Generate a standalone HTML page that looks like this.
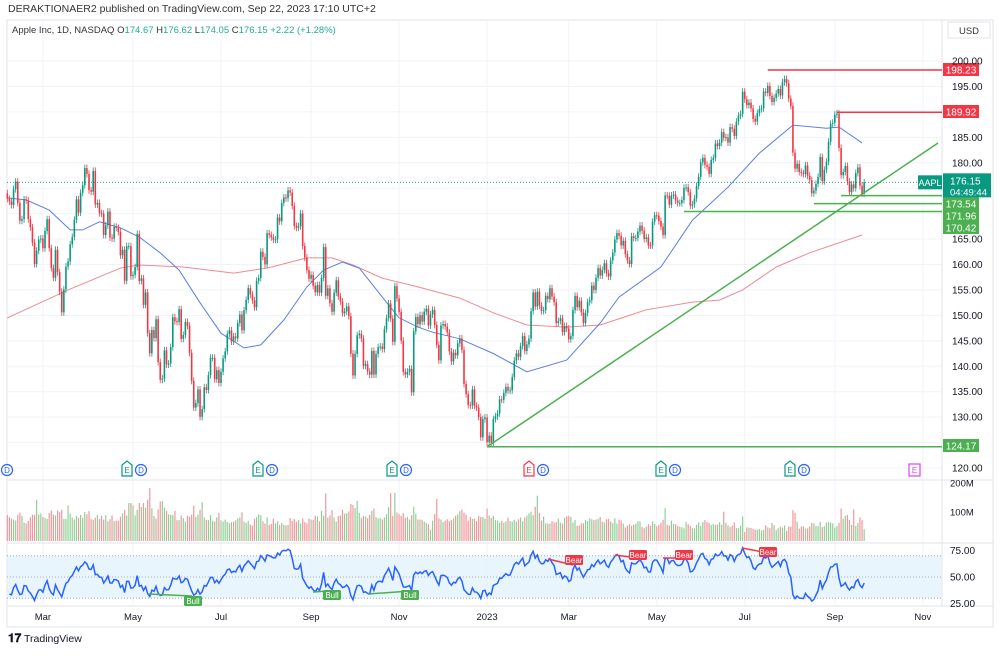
<!DOCTYPE html>
<html><head><meta charset="utf-8">
<style>
html,body{margin:0;padding:0;background:#fff;}
body{width:1000px;height:652px;overflow:hidden;font-family:"Liberation Sans",sans-serif;}
svg text{font-family:"Liberation Sans",sans-serif;}
</style></head>
<body>
<svg id="chart" width="1000" height="652" viewBox="0 0 1000 652" xmlns="http://www.w3.org/2000/svg">
<rect x="0" y="0" width="1000" height="652" fill="#fff"/>
<text x="8" y="12" font-size="10.5" fill="#333">DERAKTIONAER2 published on TradingView.com, Sep 22, 2023 17:10 UTC+2</text>
<rect x="7" y="20" width="986" height="607" fill="none" stroke="#e0e3eb"/>
<g id="grid"></g>
<g id="panes">
<line x1="7" y1="480" x2="993" y2="480" stroke="#e0e3eb"/>
<line x1="7" y1="543" x2="993" y2="543" stroke="#e0e3eb"/>
<line x1="7" y1="606" x2="993" y2="606" stroke="#e0e3eb"/>
<line x1="942" y1="20" x2="942" y2="606" stroke="#e0e3eb"/>
</g>
<g>
<text x="12" y="33" font-size="9.5" fill="#333">Apple Inc, 1D, NASDAQ <tspan fill="#333">O</tspan><tspan fill="#22ab94">174.67</tspan> <tspan fill="#333">H</tspan><tspan fill="#22ab94">176.62</tspan> <tspan fill="#333">L</tspan><tspan fill="#22ab94">174.05</tspan> <tspan fill="#333">C</tspan><tspan fill="#22ab94">176.15 +2.22 (+1.28%)</tspan></text>
</g>
<g><rect x="948" y="22" width="42" height="16" fill="#fff" stroke="#e0e3eb"/><text x="969" y="34" font-size="9.5" fill="#333" text-anchor="middle">USD</text></g>
<g id="mas"></g>
<g id="candles"></g>
<g id="levels"></g>
<g id="yaxis"></g>
<g id="events"></g>
<g id="volume"></g>
<g id="rsi"></g>
<g id="xaxis"></g>
<g>
<text x="8" y="642" font-size="12" font-weight="bold" fill="#131722">𝟏𝟕</text>
<text x="24" y="642" font-size="10.5" fill="#131722">TradingView</text>
</g>
</svg>
<script>
const closes=[172.9,172.4,171.7,174.8,176.3,172.1,168.6,168.9,172.8,172.6,168.9,167.3,164.3,160.1,162.7,164.9,165.1,
163.2,166.6,168.9,163.2,159.3,157.4,162.9,158.5,154.7,150.6,155.1,159.6,160.6,163.98,165.4,168.8,172.8,170.2,174.1,175.6,178.96,177.8,174.6,
174.3,178.4,171.8,172.1,170.1,170.0,165.8,167.7,170.4,165.3,165.1,167.4,167.2,166.4,161.8,162.9,156.8,163.6,163.6,157.7,
157.96,159.48,166.02,156.77,157.28,152.06,154.51,146.5,142.56,147.11,145.54,149.24,140.82,137.35,137.59,143.11,140.36,140.52,143.78,149.64,148.84,
148.71,151.21,145.38,146.14,148.71,147.96,142.64,137.13,131.88,132.76,135.43,130.06,131.56,135.87,135.35,138.27,141.66,141.66,137.44,139.23,136.72,
138.93,141.56,142.92,146.35,147.04,144.87,145.86,145.49,148.47,150.17,147.07,151.0,153.04,155.35,154.09,152.95,151.6,156.79,157.35,162.51,
161.51,160.01,166.13,165.81,165.35,164.87,164.92,169.24,168.49,172.1,173.19,173.03,174.55,174.15,171.52,167.57,167.23,167.53,170.03,163.62,161.38,158.91,157.22,
157.96,155.81,154.53,155.96,154.46,157.37,163.43,153.84,155.31,152.37,150.7,154.48,156.9,153.72,152.74,150.43,150.77,151.76,149.84,142.48,138.2,
142.45,146.1,146.4,145.43,140.09,140.42,138.98,138.34,142.99,138.38,142.41,143.75,143.86,143.39,147.27,149.45,152.34,149.35,144.8,155.74,153.34,
150.65,145.03,138.88,138.38,138.92,139.5,134.87,146.87,149.7,148.28,150.04,148.79,150.72,151.29,148.01,150.18,151.07,148.11,144.22,141.17,148.03,
148.31,147.81,146.63,142.91,140.94,142.65,142.16,144.49,145.47,143.21,136.5,134.51,132.37,132.3,135.45,132.23,131.86,130.03,126.04,129.61,129.93,
125.07,126.36,125.02,129.62,130.15,130.73,133.49,133.41,134.76,135.94,135.21,135.27,137.87,141.11,142.53,141.86,143.96,145.93,143.0,144.29,
145.43,150.82,154.5,151.73,154.65,151.92,150.87,151.01,153.85,153.2,155.33,153.71,152.55,148.48,148.91,149.4,146.71,147.92,147.41,
145.31,145.91,151.03,153.83,151.6,152.87,150.59,148.5,150.47,152.59,152.99,155.85,155.0,157.4,159.28,157.83,158.93,160.25,158.28,157.65,160.77,162.36,164.9,
166.17,165.63,163.76,164.66,162.03,160.8,160.1,165.56,165.21,165.23,166.47,167.63,166.65,165.02,165.33,163.77,163.76,168.41,169.68,
169.59,168.54,167.45,165.79,173.57,173.5,171.77,173.56,173.75,172.57,172.07,172.07,172.69,175.05,175.16,174.2,171.56,171.84,172.99,175.43,177.25,
180.09,180.95,179.58,179.21,177.82,180.57,180.96,183.79,183.31,183.95,186.01,184.92,185.01,183.96,187.0,186.68,185.27,188.06,189.25,189.59,193.97,
192.46,191.33,191.81,190.68,188.61,188.08,189.77,190.54,190.69,193.99,193.73,195.1,193.13,191.94,192.75,193.62,194.5,193.22,195.83,196.45,
195.61,192.58,191.17,181.99,178.85,179.8,178.19,177.97,177.79,179.46,177.45,176.57,174.0,174.49,175.84,177.23,181.12,176.38,178.61,180.19,184.12,187.65,187.87,
189.46,189.7,182.91,177.56,178.18,179.36,176.3,174.21,175.74,175.01,177.97,179.07,175.49,173.93,176.15];
const volumes=[90,82,77,74,71,90,98,86,64,61,69,82,91,90,141,91,95,
83,79,76,96,105,91,88,105,99,108,76,76,123,95,81,74,86,80,90,80,100,92,103,
76,73,80,90,76,87,74,89,68,75,88,68,70,70,84,95,107,88,131,131,
123,88,108,131,117,131,115,142,183,113,86,78,109,136,138,115,104,92,90,90,104,
72,72,88,79,67,87,84,91,122,84,91,108,134,81,73,72,89,70,67,82,97,
71,67,74,66,61,65,67,71,78,81,99,67,62,70,57,53,76,82,92,89,
68,60,82,56,59,77,61,68,56,62,55,54,56,79,69,76,66,72,60,77,65,61,77,
74,73,87,84,68,104,87,164,81,88,107,81,67,86,88,107,94,96,102,128,124,
114,138,97,79,86,84,78,90,104,112,82,78,79,74,81,93,117,165,86,166,98,
93,87,96,80,83,74,89,118,94,74,74,73,67,62,58,39,70,93,145,78,74,
65,70,75,69,72,78,87,92,103,108,97,91,70,83,76,77,69,86,83,83,77,
112,88,80,87,72,70,63,70,63,68,80,69,67,73,67,75,81,68,81,88,
95,101,89,118,156,97,70,84,61,60,60,69,64,65,77,63,60,80,85,
87,83,64,72,53,54,61,61,72,69,78,75,72,74,77,83,67,64,75,76,68,62,78,
60,74,71,60,47,53,58,52,56,60,68,68,49,44,50,58,52,68,59,
51,55,63,73,113,56,53,70,59,58,52,49,47,44,66,58,52,44,43,56,64,
52,66,72,66,62,55,59,56,57,65,56,101,63,54,48,53,64,45,44,53,85,
31,47,46,45,42,40,39,41,37,39,54,47,44,62,55,38,44,49,46,54,
35,50,50,106,97,67,43,50,51,43,43,50,62,61,52,52,66,48,51,64,65,64,61,
46,52,62,112,77,87,90,73,56,109,52,62,81,72,41];
const ma50Pts=[[0,173.1],[9,172.7],[20,170.7],[30,166.8],[36,166.8],[44,168.4],[54,167.2],[63,165.4],[73,162.3],[82,158.9],[92,152.5],[102,146.5],[113,143.6],[121,144.2],[132,149.1],[143,155.6],[151,158.9],[160,160.5],[168,159.3],[179,153.6],[187,149.5],[196,147.7],[203,146.7],[216,145.4],[232,142.5],[248,138.9],[267,141.2],[283,148.5],[292,153.6],[312,159.5],[327,168.7],[344,175.2],[359,181.9],[375,187.4],[391,186.8],[397,187.0],[408,183.9]];
const ma200Pts=[[0,149.5],[29,155.0],[54,159.3],[63,159.9],[84,159.5],[108,158.3],[124,159.3],[143,161.3],[155,161.3],[165,159.9],[179,157.3],[196,155.6],[216,153.4],[232,150.5],[248,148.1],[267,147.7],[283,148.1],[305,151.1],[327,152.6],[340,153.0],[351,155.0],[367,159.5],[383,162.3],[408,165.8]];
const priceTicks=[200,195,185,180,165,160,155,150,145,140,135,130,120];
const gridPrices=[200,195,190,185,180,175,170,165,160,155,150,145,140,135,130,125,120];
const monthLabels=["Mar","May","Jul","Sep","Nov","2023","Mar","May","Jul","Sep","Nov"];
const monthIdx=[17,60,102,145,187,229,268,310,352,395,437];
const levelPrices=[198.23,189.92,124.17,173.54,171.96,170.42];
const levelStartIdx=[363,396,229,398,385,323];
const levelLabelY=[70,112,446,204,216,228];
const rsiTicks=[75,50,25];
const volTicks=[200,100];
const firstOpen=174.0;

const NS="http://www.w3.org/2000/svg";
function mk(tag,attrs,parent,text){const e=document.createElementNS(NS,tag);for(const k in attrs)e.setAttribute(k,attrs[k]);if(text!==undefined)e.textContent=text;parent.appendChild(e);return e;}
const X=i=>7.3+2.095*i;
const Y=p=>61+(200-p)*5.0875;
const VY=v=>541-v*0.29;
const RY=r=>577-(r-50)*1.06;
const UP="#089981",DN="#f23645";

const grid=document.getElementById('grid');
gridPrices.forEach(p=>{const l=mk('line',{x1:7,x2:942,y1:Y(p),y2:Y(p),stroke:'#f0f3fa'},grid);});
monthIdx.forEach(i=>{const l=mk('line',{x1:X(i),x2:X(i),y1:20,y2:606,stroke:'#f0f3fa'},grid);});

const mas=document.getElementById('mas');
function poly(pts,color,name){const d=pts.map((p,k)=>(k?'L':'M')+X(p[0]).toFixed(1)+' '+Y(p[1]).toFixed(1)).join(' ');const e=mk('path',{d:d,fill:'none',stroke:color,'stroke-width':1},mas);}
poly(ma200Pts,'#f08a8f','sma-200-line');
poly(ma50Pts,'#5b7fe6','sma-50-line');

const cg=document.getElementById('candles');
closes.forEach((c,i)=>{
  const o=i?closes[i-1]:firstOpen;const up=c>=o;const col=up?UP:DN;
  const yt=Y(Math.max(o,c)),yb=Y(Math.min(o,c));
  const w=mk('line',{x1:X(i),x2:X(i),y1:yt-3.5,y2:yb+3.5,stroke:col,'stroke-width':0.8},cg);
  
  
  const r=mk('rect',{x:X(i)-0.8,y:yt,width:1.6,height:Math.max(1,yb-yt),fill:col},cg);
  
  
});

const lv=document.getElementById('levels');
levelPrices.forEach((p,k)=>{
  const col=k<2?'#f23645':'#4caf50';
  const ln=mk('line',{x1:X(levelStartIdx[k]),x2:942,y1:Y(p),y2:Y(p),stroke:col,'stroke-width':1.5},lv);
  
  
  const ly=levelLabelY[k];
  const b=mk('rect',{x:943,y:ly-7,width:36,height:13,fill:col},lv);
  
  
  mk('text',{x:961,y:ly+3.5,'font-size':10,fill:'#fff','text-anchor':'middle'},lv,p.toFixed(2));
});
const tl=mk('line',{x1:X(229),y1:Y(124.17),x2:938,y2:143,stroke:'#4caf50','stroke-width':1.5},lv);


const last=closes[closes.length-1];
const dl=mk('line',{x1:7,x2:942,y1:Y(last),y2:Y(last),stroke:'#089981','stroke-dasharray':'1 2','stroke-width':0.8},lv);


const sym=mk('rect',{x:918,y:Y(last)-7,width:24,height:14,fill:'#089981'},lv);


mk('text',{x:930,y:Y(last)+3.5,'font-size':9,fill:'#fff','text-anchor':'middle'},lv,'AAPL');
const lp=mk('rect',{x:943,y:Y(last)-9,width:48,height:24,fill:'#089981'},lv);


mk('text',{x:950,y:Y(last)+2,'font-size':10,fill:'#fff'},lv,last.toFixed(2));
mk('text',{x:950,y:Y(last)+13,'font-size':9.5,fill:'#fff'},lv,'04:49:44');

const ya=document.getElementById('yaxis');
priceTicks.forEach(p=>{const t=mk('text',{x:952,y:Y(p)+3.5,'font-size':10,fill:'#131722'},ya,p.toFixed(2));});

const ev=document.getElementById('events');
function eMark(x,col,fillc){const g=mk('g',{},ev);
  mk('path',{d:`M${x-5} ${465} L${x} ${461} L${x+5} ${465} L${x+5} ${476} L${x-5} ${476} Z`,fill:fillc,stroke:col,'stroke-width':1.2},g);
  mk('text',{x:x,y:473,'font-size':8,fill:col,'text-anchor':'middle'},g,'E');}
function dMark(x){const g=mk('g',{},ev);
  mk('circle',{cx:x,cy:470,r:5.5,fill:'#fff',stroke:'#2962ff','stroke-width':1.2},g);
  mk('text',{x:x,y:473,'font-size':8,fill:'#2962ff','text-anchor':'middle'},g,'D');}
dMark(7);
[[127,'#089981'],[258,'#089981'],[392,'#089981'],[529,'#f23645'],[661,'#089981'],[790,'#089981']].forEach(a=>{eMark(a[0],a[1],'#fff');dMark(a[0]+14);});
const fm=mk('g',{},ev);
mk('rect',{x:909,y:464,width:11,height:12,fill:'#fff',stroke:'#e040fb','stroke-width':1.2},fm);
mk('text',{x:914.5,y:473,'font-size':8,fill:'#e040fb','text-anchor':'middle'},fm,'E');

const vg=document.getElementById('volume');
closes.forEach((c,i)=>{if(volumes[i]===undefined)return;const o=i?closes[i-1]:firstOpen;
  const r=mk('rect',{x:X(i)-0.6,y:VY(volumes[i]),width:1.2,height:541-VY(volumes[i]),fill:c>=o?'#8fcf93':'#f3959c'},vg);
  
  });
volTicks.forEach(v=>{const t=mk('text',{x:950,y:VY(v)+3.5,'font-size':9.5,fill:'#131722'},vg,v+'M');});

const rg=document.getElementById('rsi');
const band=mk('rect',{x:7,y:RY(70),width:935,height:RY(30)-RY(70),fill:'#e3f2fd',opacity:0.8},rg);


[70,50,30].forEach(v=>{const l=mk('line',{x1:7,x2:942,y1:RY(v),y2:RY(v),stroke:'#9598a1','stroke-dasharray':'1 2','stroke-width':0.8},rg);});
// seed Wilder averages from first 14 changes
let ag=0,al=0;
for(let i=1;i<=14;i++){const ch=closes[i]-closes[i-1];ag+=Math.max(ch,0)/14;al+=Math.max(-ch,0)/14;}
const rsi=[];
for(let i=1;i<closes.length;i++){const ch=closes[i]-closes[i-1];const g=Math.max(ch,0),l=Math.max(-ch,0);
  ag=(ag*13+g)/14;al=(al*13+l)/14;rsi.push([i,al===0?100:100-100/(1+ag/al)]);}
const rp=mk('path',{d:rsi.map((p,k)=>(k?'L':'M')+X(p[0]).toFixed(1)+' '+RY(p[1]).toFixed(1)).join(' '),fill:'none',stroke:'#2962ff','stroke-width':1.5},rg);


function div(x1,y1,x2,y2,lx,ly,txt,col){const g=mk('g',{},rg);
  mk('line',{x1:x1,y1:y1,x2:x2,y2:y2,stroke:col,'stroke-width':1.5},g);
  mk('rect',{x:lx,y:ly,width:18,height:10,rx:1.5,fill:col},g);
  mk('text',{x:lx+9,y:ly+8,'font-size':8,fill:'#fff','text-anchor':'middle'},g,txt);}
div(148,594,192,596,184,596,'Bull','#4caf50');
div(313,592,328,591,323,590,'Bull','#4caf50');
div(368,594,410,591,401,590,'Bull','#4caf50');
div(548,559,573,565,565,555,'Bear','#f23645');
div(615,555,638,558,629,550,'Bear','#f23645');
div(663,558,684,558,675,550,'Bear','#f23645');
div(742,548,768,553,759,547,'Bear','#f23645');
rsiTicks.forEach(v=>{const t=mk('text',{x:950,y:RY(v)+3.5,'font-size':10,fill:'#131722'},rg,v.toFixed(2));});

const xa=document.getElementById('xaxis');
monthLabels.forEach((m,k)=>{const t=mk('text',{x:X(monthIdx[k]),y:620,'font-size':9.5,fill:'#131722','text-anchor':'middle'},xa,m);});
</script>
</body></html>
